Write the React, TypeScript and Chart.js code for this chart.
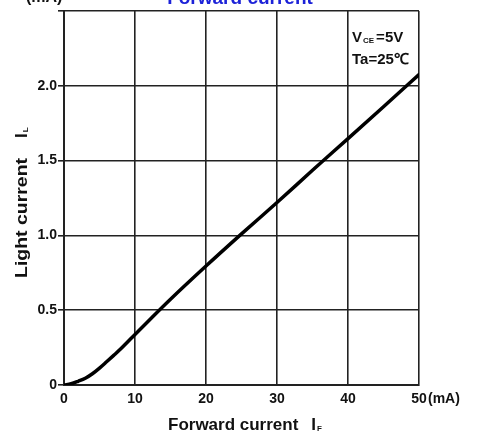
import React, { useEffect, useRef } from "react";
import { Chart, registerables } from "chart.js";

Chart.register(...registerables);

const forwardCurrent = [0, 1, 2, 3, 4, 5, 6, 7, 8, 10, 12, 15, 20, 25, 30, 35, 40, 45, 50];
const lightCurrent = [0, 0.008, 0.025, 0.045, 0.075, 0.113, 0.155, 0.198, 0.242, 0.338, 0.433, 0.573, 0.795, 1.01, 1.22, 1.435, 1.647, 1.86, 2.075];
const xTicks = [0, 10, 20, 30, 40, 50];
const yTicks = [0, 0.5, 1.0, 1.5, 2.0, 2.5];

const FONT = '"Liberation Sans", Arial, sans-serif';

const textPlugin = {
  id: "textPlugin",
  afterDraw(chart: any) {
    const ctx = chart.ctx as CanvasRenderingContext2D;
    ctx.save();
    // top unit label and title (cut at top)
    ctx.fillStyle = "#111";
    ctx.font = `bold 16px ${FONT}`;
    ctx.textAlign = "left";
    ctx.textBaseline = "alphabetic";
    ctx.fillText("(mA)", 26, 2);
    ctx.fillStyle = "#1c22d8";
    ctx.font = `bold 19px ${FONT}`;
    ctx.textAlign = "center";
    ctx.fillText("Forward current", 240, 4);

    // x unit
    ctx.fillStyle = "#111";
    ctx.font = `bold 14px ${FONT}`;
    ctx.textAlign = "left";
    ctx.textBaseline = "middle";
    ctx.fillText("(mA)", 428, 399);

    // x title
    ctx.font = `bold 17px ${FONT}`;
    ctx.textAlign = "left";
    ctx.textBaseline = "alphabetic";
    const t1 = "Forward current";
    ctx.fillText(t1, 168, 430);
    const w1 = ctx.measureText(t1).width;
    ctx.fillText("I", 168 + w1 + 13, 430);
    const wi = ctx.measureText("I").width;
    ctx.font = `bold 8px ${FONT}`;
    ctx.fillText("F", 168 + w1 + 13 + wi + 1, 431);

    // y title (rotated, stretched along its length)
    ctx.translate(27, 278);
    ctx.rotate(-Math.PI / 2);
    ctx.font = `bold 17px ${FONT}`;
    const t2 = "Light current";
    const w2raw = ctx.measureText(t2).width;
    const sx = 120 / w2raw;
    ctx.save();
    ctx.scale(sx, 1);
    ctx.fillText(t2, 0, 0);
    ctx.restore();
    const w2 = 120;
    ctx.fillText("I", w2 + 20, 0);
    const wi2 = ctx.measureText("I").width;
    ctx.font = `bold 8px ${FONT}`;
    ctx.fillText("L", w2 + 20 + wi2 + 1, 1);
    ctx.restore();

    // inset conditions
    ctx.save();
    ctx.fillStyle = "#111";
    ctx.textAlign = "left";
    ctx.textBaseline = "alphabetic";
    ctx.font = `bold 15px ${FONT}`;
    ctx.fillText("V", 352, 42);
    const wv = ctx.measureText("V").width;
    ctx.font = `bold 8px ${FONT}`;
    ctx.fillText("CE", 352 + wv + 1, 43);
    const wce = ctx.measureText("CE").width;
    ctx.font = `bold 15px ${FONT}`;
    ctx.fillText("=5V", 352 + wv + wce + 3, 42);
    ctx.fillText("Ta=25\u2103", 352, 64);
    ctx.restore();
  },
};

export default function App() {
  const ref = useRef<HTMLCanvasElement | null>(null);
  useEffect(() => {
    if (!ref.current) return;
    const chart = new Chart(ref.current, {
      type: "scatter",
      data: {
        datasets: [
          {
            data: forwardCurrent.map((x, i) => ({ x, y: lightCurrent[i] })),
            showLine: true,
            borderColor: "#000",
            borderWidth: 3.5,
            pointRadius: 0,
            cubicInterpolationMode: "monotone",
            borderCapStyle: "round",
          } as any,
        ],
      },
      plugins: [textPlugin],
      options: {
        animation: false,
        responsive: false,
        devicePixelRatio: 1,
        layout: { padding: { left: 0, top: 11, right: 61, bottom: 0 } },
        plugins: { legend: { display: false }, tooltip: { enabled: false }, title: { display: false } },
        scales: {
          x: {
            type: "linear",
            min: 0,
            max: 50,
            afterBuildTicks: (s: any) => {
              s.ticks = xTicks.map((v) => ({ value: v }));
            },
            afterFit: (s: any) => {
              s.height = 50;
            },
            ticks: {
              color: "#111",
              font: { family: FONT, size: 14, weight: "bold" },
              padding: 6,
              maxRotation: 0,
              callback: (v: any) => String(v),
            },
            grid: { color: "#222", lineWidth: 1.6, drawTicks: false },
            border: { color: "#222", width: 2 },
          },
          y: {
            type: "linear",
            min: 0,
            max: 2.5,
            afterBuildTicks: (s: any) => {
              s.ticks = yTicks.map((v) => ({ value: v }));
            },
            afterFit: (s: any) => {
              s.width = 64;
            },
            ticks: {
              color: "#111",
              font: { family: FONT, size: 14, weight: "bold" },
              padding: 1,
              callback: (v: any) => (v === 2.5 ? "" : v === 0 ? "0" : Number(v).toFixed(1)),
            },
            grid: { color: "#222", lineWidth: 1.6, tickLength: 6 },
            border: { color: "#222", width: 2 },
          },
        },
      },
    });
    return () => chart.destroy();
  }, []);
  return (
    <div style={{ position: "fixed", left: 0, top: 0, width: 480, height: 435, background: "#fff" }}>
      <canvas ref={ref} width={480} height={435} style={{ width: 480, height: 435, display: "block" }} />
    </div>
  );
}
